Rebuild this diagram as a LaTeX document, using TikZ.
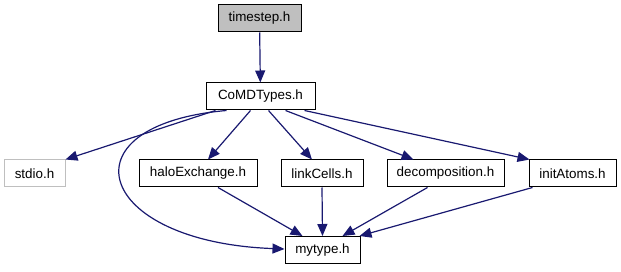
\documentclass[tikz,border=0pt]{standalone}
\usepackage{fontspec}
\setmainfont{Liberation Sans}
\usetikzlibrary{arrows.meta}
\definecolor{edgeblue}{HTML}{191970}
\definecolor{boxgrey}{HTML}{BFBFBF}
\begin{document}
\begin{tikzpicture}[x=1pt,y=-1pt,
  file/.style={draw=black,line width=1pt,fill=white,inner sep=0pt,
    minimum height=27pt,font=\fontsize{13.4}{15}\selectfont},
  extfile/.style={file,draw=boxgrey},
  rootfile/.style={file,fill=boxgrey},
  dep/.style={draw=edgeblue,line width=1.2pt,
    -{Triangle[length=12pt,width=10pt,fill=edgeblue]}}]
\useasboundingbox (0,0) rectangle (621,272);
% header boxes
\node[rootfile,minimum width=83pt] (ts) at (259.5,18.5) {timestep.h};
\node[file,minimum width=109pt] (cm) at (260.5,96.5) {CoMDTypes.h};
\node[extfile,minimum width=61pt] (st) at (34.5,173.5) {stdio.h};
\node[file,minimum width=118pt] (he) at (198,173.5) {haloExchange.h};
\node[file,minimum width=82pt] (lc) at (322,173.5) {linkCells.h};
\node[file,minimum width=117pt] (dc) at (445.5,173.5) {decomposition.h};
\node[file,minimum width=87pt] (ia) at (572.5,173.5) {initAtoms.h};
\node[file,minimum width=75pt] (mt) at (322.5,250) {mytype.h};
% include edges
\draw[dep] (ts) -- (cm);
\draw[dep] ([xshift=-45pt]cm.south) -- ([xshift=31pt]st.north);
\draw[dep] ([xshift=-34pt]cm.south) .. controls (60,125) and (95,242) .. ([yshift=1pt]mt.west);
\draw[dep] ([xshift=-10pt]cm.south) -- ([xshift=10pt]he.north);
\draw[dep] ([xshift=8pt]cm.south) -- ([xshift=-10pt]lc.north);
\draw[dep] ([xshift=25pt]cm.south) -- ([xshift=-32pt]dc.north);
\draw[dep] ([xshift=44pt]cm.south) -- ([xshift=-43pt]ia.north);
\draw[dep] ([xshift=20pt]he.south) -- ([xshift=-20pt]mt.north);
\draw[dep] (lc.south) -- (mt.north);
\draw[dep] ([xshift=-18pt]dc.south) -- ([xshift=20pt]mt.north);
\draw[dep] ([xshift=-40pt]ia.south) -- ([xshift=37pt]mt.north);
\end{tikzpicture}
\end{document}
